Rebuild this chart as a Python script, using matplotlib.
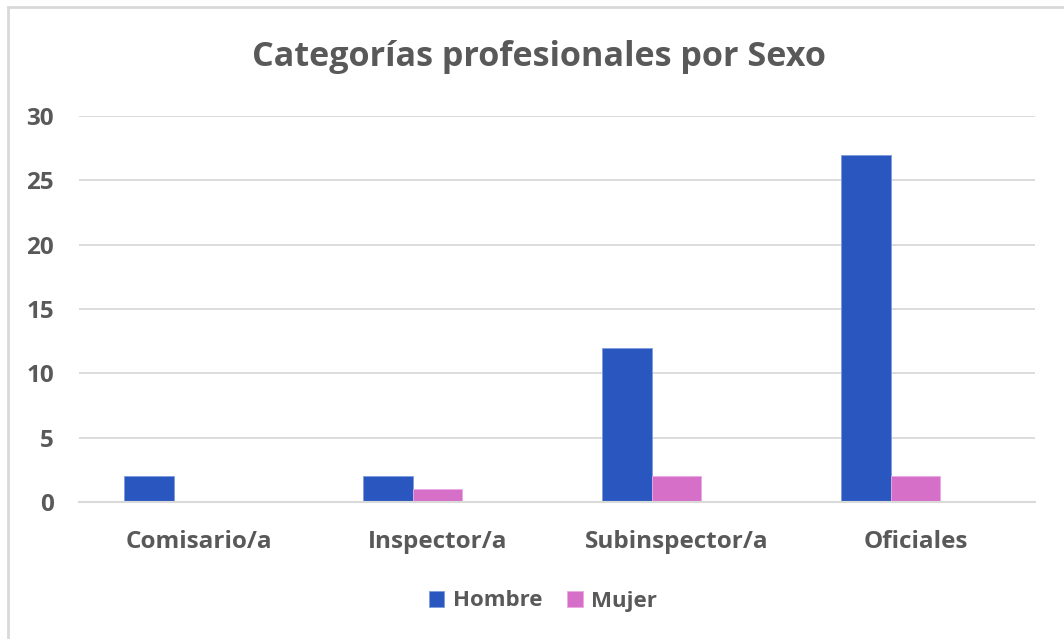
import numpy as np
import matplotlib.pyplot as plt
from matplotlib.patches import Rectangle

# * Chart data
categorias = ["Comisario/a", "Inspector/a", "Subinspector/a", "Oficiales"]
hombre = [2, 2, 12, 27]
mujer = [0, 1, 2, 2]
y_ticks = [0, 5, 10, 15, 20, 25, 30]

COLOR_HOMBRE = '#2A57BF'
COLOR_MUJER = '#D66FC8'
GRIS_TEXTO = '#595959'
GRIS_LINEA = '#D9D9D9'

plt.rcParams['font.family'] = ['Open Sans', 'DejaVu Sans']

fig = plt.figure(figsize=(10.64, 6.39), dpi=100)
ax = fig.add_axes([79 / 1064, 137 / 639, (1035 - 79) / 1064, (502 - 116) / 639])

# chart frame
fig.patches.append(Rectangle((8 / 1064, -0.01), 1.0, (639 - 7) / 639 + 0.01,
                             transform=fig.transFigure, fill=False,
                             edgecolor=GRIS_LINEA, linewidth=2))

x = np.arange(len(categorias))
ancho = 0.209
ax.bar(x - ancho, hombre, ancho, color=COLOR_HOMBRE,
       edgecolor='#7E9BDB', linewidth=0.6, label='Hombre', zorder=3)
ax.bar(x, mujer, ancho, color=COLOR_MUJER,
       edgecolor='#EBA8E3', linewidth=0.6, label='Mujer', zorder=3)

ax.set_xlim(-0.5, len(categorias) - 0.5)
ax.set_ylim(0, 30)
ax.set_yticks(y_ticks)
ax.set_xticks(x)
ax.set_xticklabels(categorias)

ax.grid(axis='y', color=GRIS_LINEA, linewidth=1.3, zorder=0)
for s in ['top', 'right', 'left']:
    ax.spines[s].set_visible(False)
ax.spines['bottom'].set_color(GRIS_LINEA)
ax.spines['bottom'].set_linewidth(1.5)
ax.spines['bottom'].set_zorder(4)

ax.tick_params(axis='both', length=0, labelsize=17.5, labelcolor=GRIS_TEXTO)
ax.tick_params(axis='y', pad=18)
ax.tick_params(axis='x', pad=20)
for lbl in ax.get_xticklabels() + ax.get_yticklabels():
    lbl.set_fontweight('bold')

fig.text(539 / 1064, 1 - 57 / 639, "Categorías profesionales por Sexo",
         ha='center', va='center', fontsize=24.6, fontweight='bold', color=GRIS_TEXTO)

leg = fig.legend(loc='center', bbox_to_anchor=(543 / 1064, 1 - 601 / 639),
                 ncol=2, frameon=False, handlelength=0.7, handleheight=0.7,
                 handletextpad=0.4, columnspacing=1.1,
                 prop={'size': 16, 'weight': 'bold'})
for t in leg.get_texts():
    t.set_color(GRIS_TEXTO)

fig.savefig('out.png', dpi=100)
